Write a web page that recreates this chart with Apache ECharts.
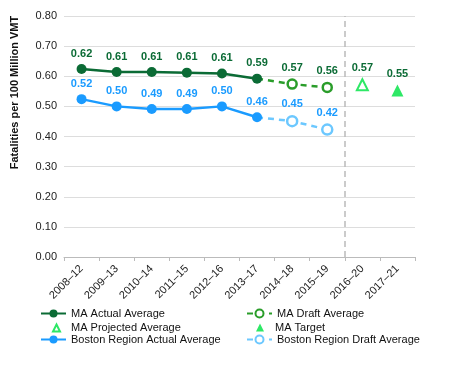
<!DOCTYPE html>
<html><head><meta charset="utf-8">
<script src="https://cdn.jsdelivr.net/npm/echarts@6/dist/echarts.min.js"></script>
<style>html,body{margin:0;padding:0;background:#fff}#c{width:468px;height:378px}</style>
</head><body><div id="c"></div>
<script>
const categories = ['2008–12','2009–13','2010–14','2011–15','2012–16','2013–17','2014–18','2015–19','2016–20','2017–21'];
const maActual = [0.624, 0.614, 0.614, 0.612, 0.609, 0.592, null, null, null, null];
const maDraft = [null, null, null, null, null, 0.592, 0.574, 0.563, null, null];
const maProjected = [null, null, null, null, null, null, null, null, 0.572, null];
const maTarget = [null, null, null, null, null, null, null, null, null, 0.553];
const bosActual = [0.524, 0.500, 0.491, 0.491, 0.500, 0.464, null, null, null, null];
const bosDraft = [null, null, null, null, null, 0.464, 0.451, 0.423, null, null];
const dividerPosition = 8;

const FONT = '"Liberation Sans", Arial, sans-serif';
const darkGreen = '#0b6b35', draftGreen = '#2a9d2a', lightGreen = '#2ee866';
const blue = '#1a9bff', lightBlue = '#6cc8ff';
const lbl = (c) => ({show:true, position:'top', color:c, fontFamily:FONT, fontWeight:'bold', fontSize:11, formatter:(p)=>{const v=Array.isArray(p.value)?p.value[1]:p.value; return v==null?'':v.toFixed(2);}});

function draftData(arr){
  return arr.map((v,i)=>{
    if (v==null) return null;
    if (i===5) return {value:v, symbol:'none', label:{show:false}};
    return v;
  });
}
function pts(arr){ return arr.map((v,i)=>v==null?null:[categories[i], v]).filter(Boolean); }

// legend layout: [name, left, top, iconWidth, iconHeight, textPadLeft]
const legendRows = [
  ['MA Actual Average', 40, 308, 25, 10, 0],
  ['MA Projected Average', 52, 321, 7, 7, 6],
  ['Boston Region Actual Average', 40, 334, 25, 10, 0],
  ['MA Draft Average', 246, 308, 25, 10, 0],
  ['MA Target', 256, 321, 8, 8, 6],
  ['Boston Region Draft Average', 246, 334, 25, 10, 0]
];
const legends = legendRows.map(r => ({
  left:r[1], top:r[2] + (10 - r[4]) / 2, itemWidth:r[3], itemHeight:r[4], padding:0,
  textStyle:{fontSize:11, color:'#111', fontFamily:FONT, padding:[0,0,0,r[5]]},
  data:[r[0]]
}));

const chart = echarts.init(document.getElementById('c'));
chart.setOption({
  animation:false,
  textStyle:{fontFamily:FONT},
  grid:{left:64, right:53, top:16, bottom:121, outerBoundsMode:'none', containLabel:false},
  xAxis:[{
    type:'category', data:categories, boundaryGap:true,
    axisLine:{lineStyle:{color:'#bbb'}},
    axisTick:{show:true, length:4, lineStyle:{color:'#bbb'}},
    axisLabel:{rotate:45, interval:0, color:'#222', fontSize:11, fontFamily:FONT, margin:10}
  },{
    type:'value', min:0, max:10, show:false
  }],
  yAxis:{
    type:'value', min:0, max:0.8, interval:0.1,
    name:'Fatalities per 100 Million VMT', nameLocation:'middle', nameGap:44,
    nameTextStyle:{fontWeight:'bold', fontSize:11, color:'#111', fontFamily:FONT, padding:[0,0,0,88]},
    axisLine:{show:false}, axisTick:{show:false},
    axisLabel:{formatter:(v)=>v.toFixed(2), color:'#222', fontSize:11, fontFamily:FONT, margin:7},
    splitLine:{lineStyle:{color:'#ddd'}}
  },
  legend:legends,
  series:[
    {name:'MA Actual Average', type:'line', data:maActual, symbol:'circle', symbolSize:10,
     lineStyle:{color:darkGreen, width:2.5}, itemStyle:{color:darkGreen}, label:lbl(darkGreen), z:5},
    {name:'MA Draft Average', type:'line', data:draftData(maDraft), symbol:'circle', symbolSize:9,
     lineStyle:{color:draftGreen, width:2.5, type:[6,5]}, itemStyle:{color:'#fff', borderColor:draftGreen, borderWidth:2.5}, label:lbl(darkGreen), z:4},
    {name:'MA Projected Average', type:'scatter', data:pts(maProjected), symbol:'triangle', symbolSize:11,
     itemStyle:{color:'#fff', borderColor:lightGreen, borderWidth:2, opacity:1}, label:lbl(darkGreen)},
    {name:'MA Target', type:'scatter', data:pts(maTarget), symbol:'triangle', symbolSize:12,
     itemStyle:{color:lightGreen, opacity:1}, label:lbl(darkGreen)},
    {name:'Boston Region Actual Average', type:'line', data:bosActual, symbol:'circle', symbolSize:10,
     lineStyle:{color:blue, width:2.5}, itemStyle:{color:blue}, label:lbl(blue), z:5},
    {name:'Boston Region Draft Average', type:'line', data:draftData(bosDraft), symbol:'circle', symbolSize:10,
     lineStyle:{color:lightBlue, width:2.5, type:[6,5]}, itemStyle:{color:'#fff', borderColor:lightBlue, borderWidth:2.5}, label:lbl(blue), z:4},
    {name:'divider', type:'line', xAxisIndex:1, data:[], silent:true,
     markLine:{symbol:'none', silent:true, label:{show:false},
       lineStyle:{color:'#bbb', type:[6,4], width:1.5},
       data:[{xAxis:dividerPosition}]}}
  ]
});
</script></body></html>
